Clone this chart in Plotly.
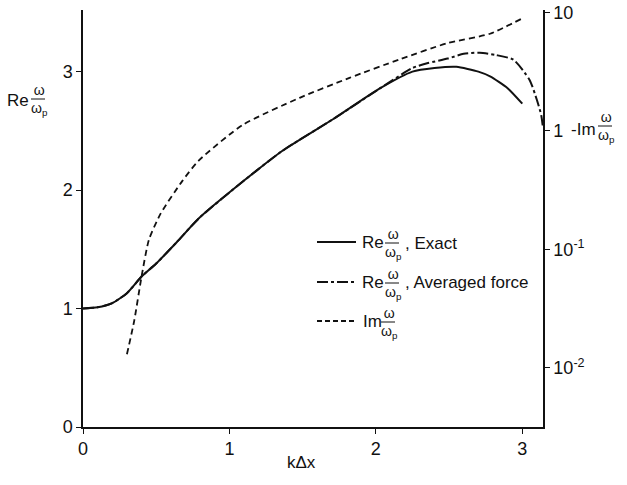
import plotly.graph_objects as go

# ---- data ----
k_exact = [0.0, 0.1, 0.2, 0.3, 0.4, 0.5, 0.64, 0.79, 1.1, 1.36, 1.71, 2.03, 2.25, 2.4, 2.55, 2.7, 2.78, 2.9, 3.0]
re_exact = [1.0, 1.01, 1.046, 1.13, 1.27, 1.38, 1.56, 1.76, 2.08, 2.33, 2.60, 2.86, 3.0, 3.03, 3.04, 3.0, 2.96, 2.86, 2.73]

k_avg = [0.0, 0.1, 0.2, 0.3, 0.4, 0.5, 0.64, 0.79, 1.1, 1.36, 1.71, 2.03, 2.25, 2.35, 2.49, 2.6, 2.71, 2.82, 2.94, 3.05, 3.1, 3.13, 3.1416]
re_avg = [1.0, 1.01, 1.046, 1.13, 1.27, 1.38, 1.56, 1.76, 2.08, 2.33, 2.60, 2.86, 3.03, 3.07, 3.11, 3.15, 3.16, 3.14, 3.10, 2.93, 2.76, 2.63, 2.52]

k_im = [0.3, 0.35, 0.4, 0.45, 0.53, 0.68, 0.79, 1.09, 1.48, 1.82, 2.16, 2.49, 2.78, 3.0]
im_vals = [0.013, 0.025, 0.059, 0.12, 0.20, 0.38, 0.56, 1.12, 1.9, 2.8, 4.0, 5.5, 6.6, 8.9]

x_ticks = [0, 1, 2, 3]
y_ticks = [0, 1, 2, 3]
im_ticks = [0.01, 0.1, 1, 10]
im_tick_text = ["10<sup>-2</sup>", "10<sup>-1</sup>", "1", "10"]

# ---- layout geometry ----
W, H = 627, 485
ML, MR, MT, MB = 83, 84, 10, 58
PW = W - ML - MR
PH = H - MT - MB
FONT = "Liberation Sans, Arial, sans-serif"
INK = "#111111"

def px(x):
    return (x - ML) / PW

def py(y):
    return (H - MB - y) / PH

AVG_DASH = "11px,3px,3px,3px"
IM_DASH = "6px,4px"

fig = go.Figure()
fig.add_trace(go.Scatter(x=k_exact, y=re_exact, mode="lines",
                         line=dict(color=INK, width=2, shape="spline", smoothing=0.6),
                         showlegend=False))
fig.add_trace(go.Scatter(x=k_avg, y=re_avg, mode="lines",
                         line=dict(color=INK, width=2, dash=AVG_DASH, shape="spline", smoothing=0.6),
                         showlegend=False))
fig.add_trace(go.Scatter(x=k_im, y=im_vals, mode="lines", yaxis="y2",
                         line=dict(color=INK, width=1.8, dash=IM_DASH, shape="spline", smoothing=0.6),
                         showlegend=False))

annotations = []
shapes = []

def text(x, y, s, size=17, anchor="left"):
    annotations.append(dict(x=px(x), y=py(y), xref="paper", yref="paper", text=s,
                            showarrow=False, xanchor=anchor, yanchor="middle",
                            font=dict(family=FONT, size=size, color=INK)))

def frac(xc, yc, size=14):
    # omega over omega_p as one stacked text; (xc, yc) is the fraction bar
    text(xc + 1, yc + 1, "ω<br>ω<sub>p</sub>", size=size, anchor="center")
    shapes.append(dict(type="line", xref="paper", yref="paper", layer="above",
                       x0=px(xc - 7), x1=px(xc + 7), y0=py(yc), y1=py(yc),
                       line=dict(color=INK, width=1)))

# Axis titles
text(5, 100, "Re", size=17)
frac(38, 99)
text(569, 129, "-Im", size=17)
frac(605, 126)
text(301, 463, "kΔx", size=17, anchor="center")

# Custom legend
def legend_row(y, dash, label):
    shapes.append(dict(type="line", xref="paper", yref="paper",
                       x0=px(317), x1=px(356), y0=py(y), y1=py(y),
                       line=dict(color=INK, width=2, dash=dash)))
    if label is None:
        text(361, y, "Im", size=17)
        frac(388, y + 1)
    else:
        text(360, y, "Re", size=17)
        frac(392, y + 1)
        text(403, y + 1, ", " + label, size=17)

legend_row(242, "solid", "Exact")
legend_row(282, AVG_DASH, "Averaged force")
legend_row(321, "5px,3px", None)

axis_common = dict(showgrid=False, zeroline=False, showline=True, linecolor=INK, linewidth=1.5,
                   ticks="outside", ticklen=5, tickcolor=INK, tickwidth=1.2, automargin=False,
                   tickfont=dict(family=FONT, size=18, color=INK))

fig.update_layout(
    width=W, height=H,
    margin=dict(l=ML, r=MR, t=MT, b=MB, autoexpand=False),
    paper_bgcolor="white", plot_bgcolor="white",
    showlegend=False,
    xaxis=dict(range=[0, 3.1416], tickvals=x_ticks, **axis_common),
    yaxis=dict(range=[0, 3.52], tickvals=y_ticks, **axis_common),
    yaxis2=dict(type="log", range=[-2.5, 1.02], overlaying="y", side="right",
                tickvals=im_ticks, ticktext=im_tick_text, **axis_common),
    annotations=annotations,
    shapes=shapes,
)

fig.write_html("out.html", config={"displayModeBar": False},
               post_script="document.body.style.margin='0';document.body.style.overflow='hidden';")
